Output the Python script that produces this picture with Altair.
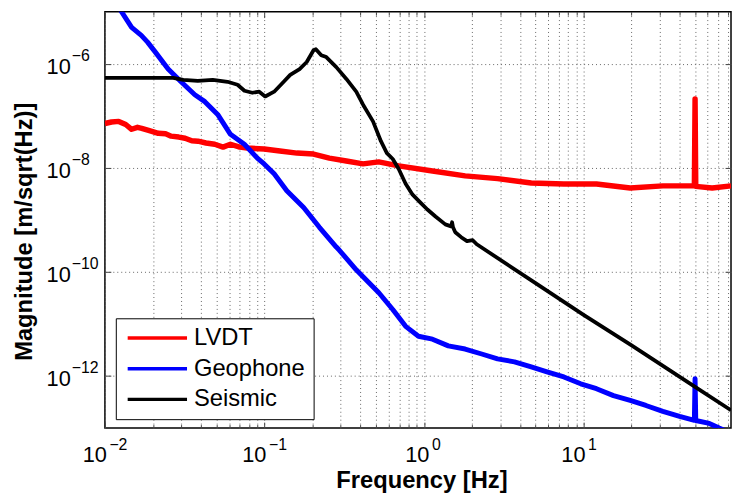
import altair as alt
import pandas as pd

# ---------------- data ----------------
series_names = ["LVDT", "Geophone", "Seismic"]
series_colors = ["#ff0000", "#0000ff", "#000000"]
series_widths = [5.5, 5.0, 3.8]

lvdt_f = [0.0100, 0.0110, 0.0122, 0.0135, 0.0147, 0.0160, 0.0170, 0.0190, 0.0216, 0.0240,
          0.0260, 0.0290, 0.0318, 0.0350, 0.0383, 0.0430, 0.0488, 0.0550, 0.0612, 0.0700,
          0.0780, 0.0995, 0.125, 0.160, 0.203, 0.255, 0.326, 0.415, 0.520, 0.694,
          1.13, 1.81, 2.89, 4.70, 7.53, 12.05, 19.6, 31.4, 49.5, 50.0,
          50.5, 64.0, 84.0]
lvdt_m = [7.1e-8, 7.6e-8, 7.8e-8, 6.8e-8, 5.5e-8, 6.0e-8, 5.75e-8, 5.2e-8, 4.6e-8, 4.5e-8,
          4.06e-8, 3.9e-8, 3.7e-8, 3.3e-8, 3.25e-8, 3.0e-8, 2.84e-8, 2.5e-8, 2.84e-8, 2.5e-8,
          2.4e-8, 2.3e-8, 2.1e-8, 1.92e-8, 1.84e-8, 1.54e-8, 1.35e-8, 1.19e-8, 1.3e-8, 1.09e-8,
          8.7e-9, 7.0e-9, 6.2e-9, 5.1e-9, 4.9e-9, 4.9e-9, 4.1e-9, 4.5e-9, 4.5e-9, 2.1e-7,
          4.4e-9, 4.1e-9, 4.5e-9]

geo_f = [0.0120, 0.0127, 0.0147, 0.0169, 0.0185, 0.0207, 0.0249, 0.0300, 0.0366, 0.0423,
         0.0509, 0.0612, 0.0748, 0.0902, 0.0995, 0.115, 0.138, 0.176, 0.221, 0.282,
         0.294, 0.376, 0.433, 0.521, 0.637, 0.767, 0.923, 1.13, 1.42, 1.81,
         2.30, 2.89, 3.69, 4.70, 5.90, 7.53, 9.60, 12.05, 15.4, 19.6,
         24.6, 31.4, 40.0, 49.5, 50.0, 50.5, 61.4, 70.8, 80.0]
geo_m = [1.3e-5, 1.0e-5, 4.98e-6, 3.5e-6, 2.6e-6, 1.67e-6, 7.9e-7, 4.5e-7, 2.54e-7, 1.87e-7,
         1.06e-7, 4.4e-8, 2.84e-8, 1.54e-8, 1.19e-8, 7.66e-9, 3.63e-9, 1.73e-9, 7.2e-10, 3.0e-10,
         2.63e-10, 1.1e-10, 7.1e-11, 3.98e-11, 1.9e-11, 9.0e-12, 5.8e-12, 5.1e-12, 3.8e-12, 3.3e-12,
         2.65e-12, 2.14e-12, 1.87e-12, 1.5e-12, 1.2e-12, 9.6e-13, 7.1e-13, 5.7e-13, 4.2e-13, 3.4e-13,
         2.72e-13, 2.09e-13, 1.68e-13, 1.41e-13, 8.9e-13, 1.4e-13, 1.23e-13, 1.0e-13, 8.5e-14]

seis_f = [0.0100, 0.0268, 0.0310, 0.0382, 0.0474, 0.0587, 0.0678, 0.0749, 0.0839, 0.0927,
          0.101, 0.115, 0.132, 0.145, 0.166, 0.184, 0.203, 0.210, 0.227, 0.244,
          0.282, 0.326, 0.376, 0.415, 0.479, 0.537, 0.585, 0.637, 0.694, 0.767,
          0.848, 0.950, 1.05, 1.18, 1.36, 1.48, 1.50, 1.52, 1.57, 1.71,
          1.86, 2.02, 2.14, 5.0, 10.0, 20.0, 50.0, 84.0]
seis_m = [5.35e-7, 5.35e-7, 4.9e-7, 4.7e-7, 4.9e-7, 4.5e-7, 3.94e-7, 3.03e-7, 2.77e-7, 2.9e-7,
          2.35e-7, 2.9e-7, 4.5e-7, 6.1e-7, 7.9e-7, 1.08e-6, 1.82e-6, 1.9e-6, 1.46e-6, 1.34e-6,
          8.6e-7, 5.1e-7, 2.9e-7, 1.63e-7, 7.8e-8, 3.25e-8, 1.92e-8, 1.48e-8, 9.5e-9, 4.95e-9,
          3.05e-9, 2.15e-9, 1.58e-9, 1.16e-9, 8.2e-10, 7.5e-10, 9.0e-10, 7.2e-10, 5.8e-10, 4.65e-10,
          3.9e-10, 4.07e-10, 3.4e-10, 6.1e-11, 1.5e-11, 3.87e-12, 6.2e-13, 2.2e-13]

x_domain = [0.01, 84.0]
y_domain = [1e-13, 1e-5]
x_decades = [0.01, 0.1, 1.0, 10.0]
x_grid = [0.01, 0.02, 0.03, 0.04, 0.05, 0.06, 0.07, 0.08, 0.09,
          0.1, 0.2, 0.3, 0.4, 0.5, 0.6, 0.7, 0.8, 0.9,
          1.0, 2.0, 3.0, 4.0, 5.0, 6.0, 7.0, 8.0, 9.0,
          10.0, 20.0, 30.0, 40.0, 50.0, 60.0, 70.0, 80.0]
y_ticks = [1e-12, 1e-10, 1e-8, 1e-6]

# ---------------- table ----------------
rows = []
for name, w, fs, ms in zip(series_names, series_widths,
                           [lvdt_f, geo_f, seis_f], [lvdt_m, geo_m, seis_m]):
    for f, m in zip(fs, ms):
        rows.append({"series": name, "f": f, "m": m, "sw": w})
df = pd.DataFrame(rows)

W, H = 633, 421
FONT = "Liberation Sans"
xs = alt.Scale(type="log", domain=x_domain, nice=False)
ys = alt.Scale(type="log", domain=y_domain, nice=False)

is_decade = "abs(log(datum.value)/LN10 - round(log(datum.value)/LN10)) < 0.001"
exp_expr = "(round(log(datum.value)/LN10) < 0 ? '\u2212' : '') + abs(round(log(datum.value)/LN10))"

base = alt.Chart(df)

# main layer: lines, grid, "10" labels, titles, legend
lines = base.mark_line(clip=True, strokeJoin="round").encode(
    x=alt.X("f:Q", scale=xs, axis=alt.Axis(
        values=x_grid, orient="bottom", ticks=False, tickSize=0, domain=False,
        grid=True, gridColor="#666", gridDash=[1, 3], gridWidth=1,
        labelExpr=f"{is_decade} ? '10' : ''", labelFont=FONT, labelFontSize=22,
        labelColor="black", labelAlign="right", labelBaseline="alphabetic",
        labelPadding=34, labelOverlap=False, labelFlush=False, labelBound=False,
        labelOffset={"condition": {"test": "abs(datum.value - 1) < 0.01", "value": 5}, "value": 1.5},
        title="Frequency [Hz]", titleFont=FONT, titleFontSize=24, titleFontWeight="bold",
        titleColor="black", titleX=320, titleY=60, titleAlign="center", titleBaseline="alphabetic")),
    y=alt.Y("m:Q", scale=ys, axis=alt.Axis(
        values=y_ticks, orient="left", ticks=False, tickSize=0, domain=False,
        grid=True, gridColor="#666", gridDash=[1, 3], gridWidth=1,
        labelExpr="'10'", labelFont=FONT, labelFontSize=22, labelColor="black",
        labelAlign="right", labelBaseline="alphabetic", labelPadding=35, labelOffset=10,
        labelOverlap=False, labelFlush=False, labelBound=False,
        title="Magnitude [m/sqrt(Hz)]", titleFont=FONT, titleFontSize=24, titleFontWeight="bold",
        titleColor="black", titleAngle=270, titleX=-74, titleY=222, titleAlign="center",
        titleBaseline="alphabetic")),
    color=alt.Color("series:N", scale=alt.Scale(domain=series_names, range=series_colors),
                    legend=alt.Legend(title=None, orient="none", legendX=11, legendY=310,
                                      direction="vertical", symbolType="M-6,0H6", symbolSize=100,
                                      symbolStrokeWidth=3.5, symbolOffset=22, labelOffset=25,
                                      labelFont=FONT, labelFontSize=24, labelColor="black",
                                      padding=8, rowPadding=7, strokeColor="black",
                                      fillColor="white", labelLimit=300)),
    strokeWidth=alt.StrokeWidth("sw:Q", scale=None),
    order=alt.Order("f:Q"),
)

# exponent labels
exps = base.mark_line(opacity=0).encode(
    x=alt.X("f:Q", scale=xs, axis=alt.Axis(
        values=x_decades, orient="bottom", ticks=False, tickSize=0, domain=False, grid=False,
        labelExpr=exp_expr, labelFont=FONT, labelFontSize=16, labelColor="black",
        labelAlign="left", labelBaseline="alphabetic", labelPadding=21.7,
        labelOverlap=False, labelFlush=False, labelBound=False,
        labelOffset={"condition": {"test": "abs(datum.value - 1) < 0.01", "value": 7.5}, "value": 4},
        title=None)),
    y=alt.Y("m:Q", scale=ys, axis=alt.Axis(
        values=y_ticks, orient="left", ticks=False, tickSize=0, domain=False, grid=False,
        labelExpr=exp_expr, labelFont=FONT, labelFontSize=16, labelColor="black",
        labelAlign="left", labelBaseline="alphabetic", labelPadding=34, labelOffset=-3.4,
        labelOverlap=False, labelFlush=False, labelBound=False, title=None)),
)

tick_size_x = {"condition": {"test": is_decade, "value": 6}, "value": 3.5}

# inward ticks on bottom and left edges
ticks_bl = base.mark_line(opacity=0).encode(
    x=alt.X("f:Q", scale=xs, axis=alt.Axis(
        values=x_grid, orient="top", offset=-H, ticks=True, tickSize=tick_size_x,
        tickColor="#444", tickWidth=1, labels=False, domain=False, grid=False, title=None)),
    y=alt.Y("m:Q", scale=ys, axis=alt.Axis(
        values=y_ticks, orient="right", offset=-W, ticks=True, tickSize=6,
        tickColor="#444", tickWidth=1, labels=False, domain=False, grid=False, title=None)),
)

# inward ticks on top and right edges
ticks_tr = base.mark_line(opacity=0).encode(
    x=alt.X("f:Q", scale=xs, axis=alt.Axis(
        values=x_grid, orient="bottom", offset=-H, ticks=True, tickSize=tick_size_x,
        tickColor="#444", tickWidth=1, labels=False, domain=False, grid=False, title=None)),
    y=alt.Y("m:Q", scale=ys, axis=alt.Axis(
        values=y_ticks, orient="left", offset=-W, ticks=True, tickSize=6,
        tickColor="#444", tickWidth=1, labels=False, domain=False, grid=False, title=None)),
)

chart = alt.layer(lines, exps, ticks_bl, ticks_tr).resolve_axis(
    x="independent", y="independent"
).properties(
    width=W, height=H,
    padding={"left": 98, "top": 1, "right": 1, "bottom": 70},
    autosize=alt.AutoSizeParams(type="none"),
    background="white",
).configure_view(stroke="black", strokeWidth=1.5)

chart.save("out.html", embed_options={"renderer": "svg", "actions": False})
